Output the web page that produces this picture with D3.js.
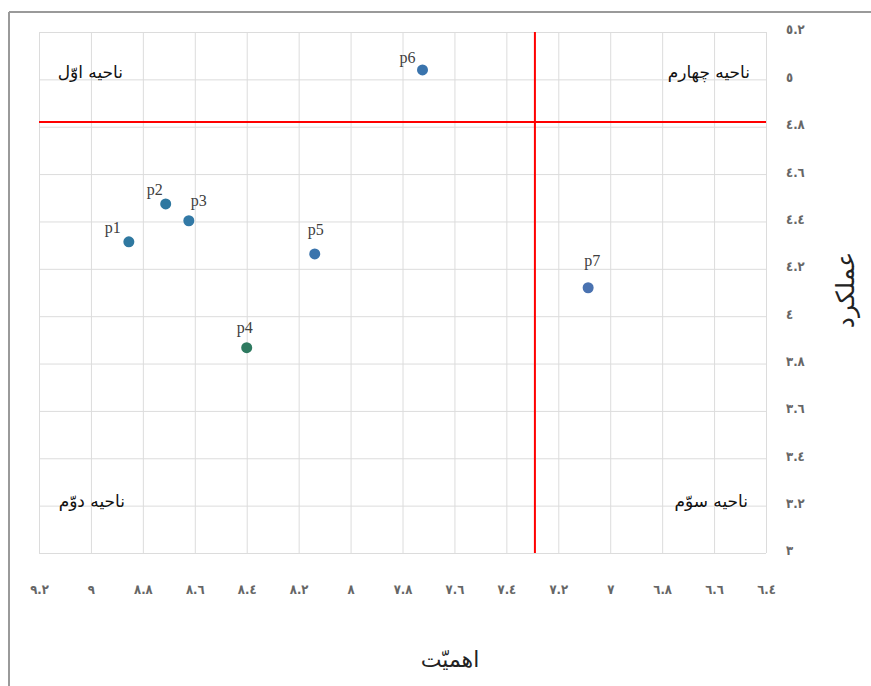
<!DOCTYPE html>
<html>
<head>
<meta charset="utf-8">
<script src="https://cdn.jsdelivr.net/npm/d3@7/dist/d3.min.js"></script>
<style>
  html, body { margin: 0; padding: 0; background: #fff; }
  svg { display: block; }
</style>
</head>
<body>
<svg id="chart" width="871" height="686"></svg>
<script>
// ---- data ----
const pointNames = ["p1", "p2", "p3", "p4", "p5", "p6", "p7"];
const importance = [8.854, 8.712, 8.623, 8.40, 8.138, 7.723, 7.085];   // اهمیّت (x)
const performance = [4.314, 4.474, 4.403, 3.867, 4.263, 5.04, 4.12];   // عملکرد (y)
const meanImportance = 7.29;
const meanPerformance = 4.82;
const xTickValues = [9.2, 9, 8.8, 8.6, 8.4, 8.2, 8, 7.8, 7.6, 7.4, 7.2, 7, 6.8, 6.6, 6.4];
const xTickLabels = ["٩.٢", "٩", "٨.٨", "٨.٦", "٨.٤", "٨.٢", "٨", "٧.٨", "٧.٦", "٧.٤", "٧.٢", "٧", "٦.٨", "٦.٦", "٦.٤"];
const yTickValues = [5.2, 5, 4.8, 4.6, 4.4, 4.2, 4, 3.8, 3.6, 3.4, 3.2, 3];
const yTickLabels = ["٥.٢", "٥", "٤.٨", "٤.٦", "٤.٤", "٤.٢", "٤", "٣.٨", "٣.٦", "٣.٤", "٣.٢", "٣"];
const quadrantNames = ["ناحیه اوّل", "ناحیه چهارم", "ناحیه دوّم", "ناحیه سوّم"];
const xTitle = "اهمیّت";
const yTitle = "عملکرد";

// ---- styles ----
const pointColors = ["#2f78a0", "#2f78a0", "#3279a6", "#2e7a60", "#3a74ad", "#3a74ad", "#4a72b0"];
// label offsets relative to each point: [dx, dy, anchor]
const labelOffsets = [[-8, -9, "end"], [-3, -9, "end"], [2, -15, "start"], [-2, -15, "middle"],
                      [1, -19, "middle"], [-7, -7, "end"], [4, -22, "middle"]];

const svg = d3.select("#chart");
const plot = { left: 39, right: 766, top: 32, bottom: 553 };

const x = d3.scaleLinear().domain([9.2, 6.4]).range([plot.left, plot.right]);
const y = d3.scaleLinear().domain([3, 5.2]).range([plot.bottom, plot.top]);

// outer frame
svg.append("line").attr("x1", 9).attr("x2", 871).attr("y1", 12).attr("y2", 12)
  .attr("stroke", "#9a9a9a").attr("stroke-width", 2);
svg.append("line").attr("x1", 9).attr("x2", 9).attr("y1", 12).attr("y2", 686)
  .attr("stroke", "#9a9a9a").attr("stroke-width", 2);

// grid
const gx = svg.append("g").attr("transform", `translate(0,${plot.bottom})`)
  .call(d3.axisBottom(x).tickValues(xTickValues).tickSize(-(plot.bottom - plot.top)).tickFormat(""));
gx.select(".domain").remove();
gx.selectAll("line").attr("stroke", "#dcdcdc").attr("stroke-width", 1);

const gy = svg.append("g").attr("transform", `translate(${plot.left},0)`)
  .call(d3.axisLeft(y).tickValues(yTickValues).tickSize(-(plot.right - plot.left)).tickFormat(""));
gy.select(".domain").remove();
gy.selectAll("line").attr("stroke", "#dcdcdc").attr("stroke-width", 1);

// tick labels
const tickFont = "'DejaVu Sans Condensed', 'DejaVu Sans'";
const ax = svg.append("g").attr("transform", `translate(0,${plot.bottom})`)
  .call(d3.axisBottom(x).tickValues(xTickValues).tickSize(0).tickPadding(32)
    .tickFormat((d, i) => xTickLabels[i]));
ax.select(".domain").remove();
ax.selectAll("text").attr("fill", "#666").style("font-family", tickFont)
  .style("font-size", "13px").style("font-weight", "bold");

const ay = svg.append("g").attr("transform", `translate(780,0)`)
  .call(d3.axisRight(y).tickValues(yTickValues).tickSize(0).tickPadding(6)
    .tickFormat((d, i) => yTickLabels[i]));
ay.select(".domain").remove();
ay.selectAll("text").attr("fill", "#666").attr("dy", "0.15em")
  .style("font-family", tickFont)
  .style("font-size", "13px").style("font-weight", "bold");

// mean lines
svg.append("line").attr("x1", x(meanImportance)).attr("x2", x(meanImportance))
  .attr("y1", y(3)).attr("y2", y(5.2)).attr("stroke", "#ff0000").attr("stroke-width", 2);
svg.append("line").attr("x1", x(9.2)).attr("x2", x(6.4))
  .attr("y1", y(meanPerformance)).attr("y2", y(meanPerformance)).attr("stroke", "#ff0000").attr("stroke-width", 2);

// quadrant labels (anchored at their right end)
const quadPos = [[9.2, 5.0], [6.4, 5.0], [9.2, 3.2], [6.4, 3.2]];
const quadShift = [[84, -1], [-16, -1], [86, 1], [-18, 1]];
svg.append("g").selectAll("text").data(quadrantNames).join("text")
  .attr("x", (d, i) => x(quadPos[i][0]) + quadShift[i][0])
  .attr("y", (d, i) => y(quadPos[i][1]) + quadShift[i][1])
  .attr("text-anchor", "end")
  .style("font-family", "'DejaVu Sans'")
  .style("font-size", "17px")
  .attr("fill", "#111")
  .text(d => d);

// points
svg.append("g").selectAll("circle").data(pointNames).join("circle")
  .attr("cx", (d, i) => x(importance[i]))
  .attr("cy", (d, i) => y(performance[i]))
  .attr("r", 5.5)
  .attr("fill", (d, i) => pointColors[i]);

svg.append("g").selectAll("text").data(pointNames).join("text")
  .attr("x", (d, i) => x(importance[i]) + labelOffsets[i][0])
  .attr("y", (d, i) => y(performance[i]) + labelOffsets[i][1])
  .attr("text-anchor", (d, i) => labelOffsets[i][2])
  .style("font-family", "'Liberation Serif'")
  .style("font-size", "16px")
  .attr("fill", "#404040")
  .text(d => d);

// axis titles
svg.append("text").attr("x", 450).attr("y", 667)
  .attr("text-anchor", "middle")
  .style("font-family", "'DejaVu Sans'").style("font-size", "22px").attr("fill", "#222")
  .text(xTitle);

svg.append("text")
  .attr("transform", "translate(854,290) rotate(-90)")
  .attr("text-anchor", "middle")
  .style("font-family", "'DejaVu Sans'").style("font-size", "25px").attr("fill", "#222")
  .text(yTitle);
</script>
</body>
</html>
